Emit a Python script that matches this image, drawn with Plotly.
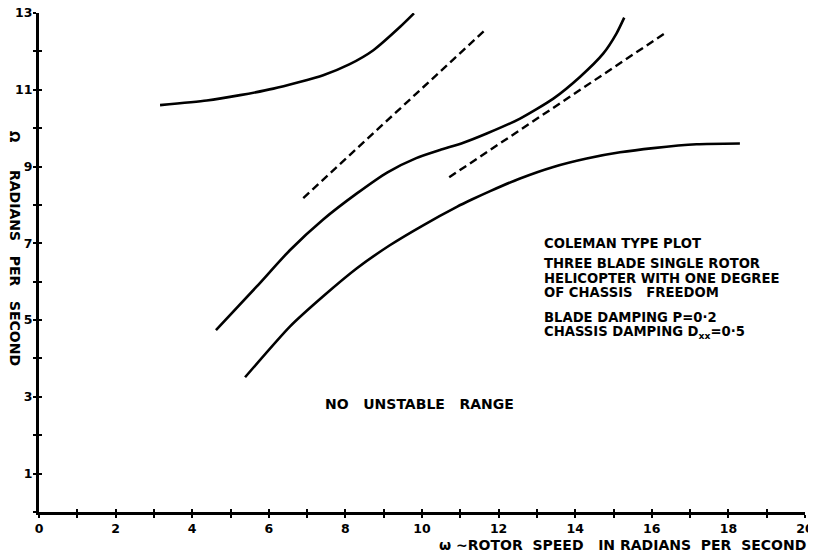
import plotly.graph_objects as go

# ---- data ----
upper_x = [3.16, 4.38, 5.25, 6.12, 7.42, 8.10, 8.73, 9.43, 9.79]
upper_y = [10.60, 10.72, 10.86, 11.03, 11.38, 11.66, 12.03, 12.64, 12.99]

middle_x = [4.62, 5.68, 6.55, 7.42, 8.30, 9.10, 9.85, 10.47, 11.08, 11.69, 12.56, 13.43, 14.13, 14.73, 15.08, 15.28]
middle_y = [4.74, 5.87, 6.82, 7.62, 8.30, 8.85, 9.22, 9.43, 9.62, 9.86, 10.25, 10.77, 11.34, 11.94, 12.47, 12.88]

lower_x = [5.38, 6.55, 7.42, 8.30, 9.16, 10.03, 10.91, 11.30, 11.78, 12.56, 13.43, 14.30, 15.17, 16.04, 17.17, 18.30]
lower_y = [3.51, 4.83, 5.62, 6.35, 6.95, 7.47, 7.95, 8.14, 8.36, 8.69, 8.99, 9.21, 9.37, 9.48, 9.58, 9.60]

dash1_x = [6.90, 11.62]
dash1_y = [8.18, 12.53]
dash2_x = [10.71, 16.34]
dash2_y = [8.72, 12.47]

x_tickvals = list(range(0, 21))
x_ticktext = [str(v) if v % 2 == 0 else "" for v in x_tickvals]
y_tickvals = list(range(0, 14))
y_ticktext = [str(v) if v % 2 == 1 else "" for v in y_tickvals]

info_lines = [
    "COLEMAN TYPE PLOT",
    "THREE BLADE SINGLE ROTOR",
    "HELICOPTER WITH ONE DEGREE",
    "OF CHASSIS\u00a0\u00a0 FREEDOM",
    "BLADE DAMPING P=0·2",
    "CHASSIS DAMPING D<sub>xx</sub>=0·5",
]
info_y = [7.00, 6.48, 6.09, 5.72, 5.08, 4.67]

FONT = "DejaVu Sans"
solid = dict(color="black", width=2.6)
dashed = dict(color="black", width=2.4, dash="8px,4.5px")


def bold(size):
    return dict(family=FONT, size=size, color="black", weight="bold")


fig = go.Figure()
for xs, ys in [(upper_x, upper_y), (middle_x, middle_y), (lower_x, lower_y)]:
    fig.add_trace(go.Scatter(x=xs, y=ys, mode="lines",
                             line=dict(**solid, shape="spline", smoothing=0.6),
                             showlegend=False, hoverinfo="skip"))
for xs, ys in [(dash1_x, dash1_y), (dash2_x, dash2_y)]:
    fig.add_trace(go.Scatter(x=xs, y=ys, mode="lines", line=dashed,
                             showlegend=False, hoverinfo="skip"))
# empty trace to activate overlay axes (inside half of crossing ticks)
fig.add_trace(go.Scatter(x=[None], y=[None], xaxis="x2", yaxis="y2",
                         showlegend=False, hoverinfo="skip"))

annotations = []
for txt, yy in zip(info_lines, info_y):
    annotations.append(dict(x=13.12, y=yy, xref="x", yref="y", text=txt,
                            showarrow=False, xanchor="left", yanchor="middle",
                            font=bold(13.2)))
annotations.append(dict(x=7.42, y=2.81, xref="x", yref="y",
                        text="NO\u00a0\u00a0 UNSTABLE\u00a0\u00a0 RANGE",
                        showarrow=False, xanchor="left", yanchor="middle",
                        font=bold(14)))
annotations.append(dict(x=1.004, y=(512 - 545) / 499, xref="paper", yref="paper",
                        text="ω ~ROTOR\u00a0 SPEED\u00a0\u00a0 IN RADIANS\u00a0 PER\u00a0 SECOND",
                        showarrow=False, xanchor="right", yanchor="middle",
                        font=bold(14)))
annotations.append(dict(x=(15 - 39) / 766, y=(512 - 137) / 499, xref="paper", yref="paper",
                        text="Ω", textangle=90, showarrow=False,
                        xanchor="center", yanchor="middle",
                        font=bold(13.5)))
annotations.append(dict(x=(15 - 39) / 766, y=(512 - 268) / 499, xref="paper", yref="paper",
                        text="RADIANS\u00a0\u00a0 PER\u00a0\u00a0 SECOND", textangle=90,
                        showarrow=False, xanchor="center", yanchor="middle",
                        font=bold(14)))

tickfont = bold(12.5)
# the page body adds an 8px offset; the figure is sized so that the plot area
# lands at page pixels x 39..805, y 13..512
fig.update_layout(
    width=808, height=548,
    margin=dict(l=31, r=11, t=5, b=44, autoexpand=False),
    paper_bgcolor="white", plot_bgcolor="white",
    font=dict(family=FONT, color="black"),
    xaxis=dict(range=[0, 20], tickmode="array", tickvals=x_tickvals, ticktext=x_ticktext,
               ticks="outside", ticklen=3, tickwidth=2, tickcolor="black",
               showline=True, linecolor="black", linewidth=3, showgrid=False,
               zeroline=False, tickfont=tickfont, fixedrange=True, automargin=False,
               ticklabeloverflow="allow"),
    yaxis=dict(range=[0, 13], tickmode="array", tickvals=y_tickvals, ticktext=y_ticktext,
               ticks="outside", ticklen=3, tickwidth=2, tickcolor="black",
               showline=True, linecolor="black", linewidth=3, showgrid=False,
               zeroline=False, tickfont=tickfont, fixedrange=True, automargin=False,
               ticklabeloverflow="allow", ticklabelstandoff=-2),
    xaxis2=dict(range=[0, 20], overlaying="x", side="bottom", anchor="y",
                tickmode="array", tickvals=x_tickvals, ticktext=[""] * len(x_tickvals),
                ticks="inside", ticklen=3, tickwidth=2, tickcolor="black",
                showline=False, showgrid=False, zeroline=False, fixedrange=True,
                automargin=False),
    yaxis2=dict(range=[0, 13], overlaying="y", side="left", anchor="x",
                tickmode="array", tickvals=y_tickvals, ticktext=[""] * len(y_tickvals),
                ticks="inside", ticklen=3, tickwidth=2, tickcolor="black",
                showline=False, showgrid=False, zeroline=False, fixedrange=True,
                automargin=False),
    annotations=annotations,
)

fig.write_html("out.html")
